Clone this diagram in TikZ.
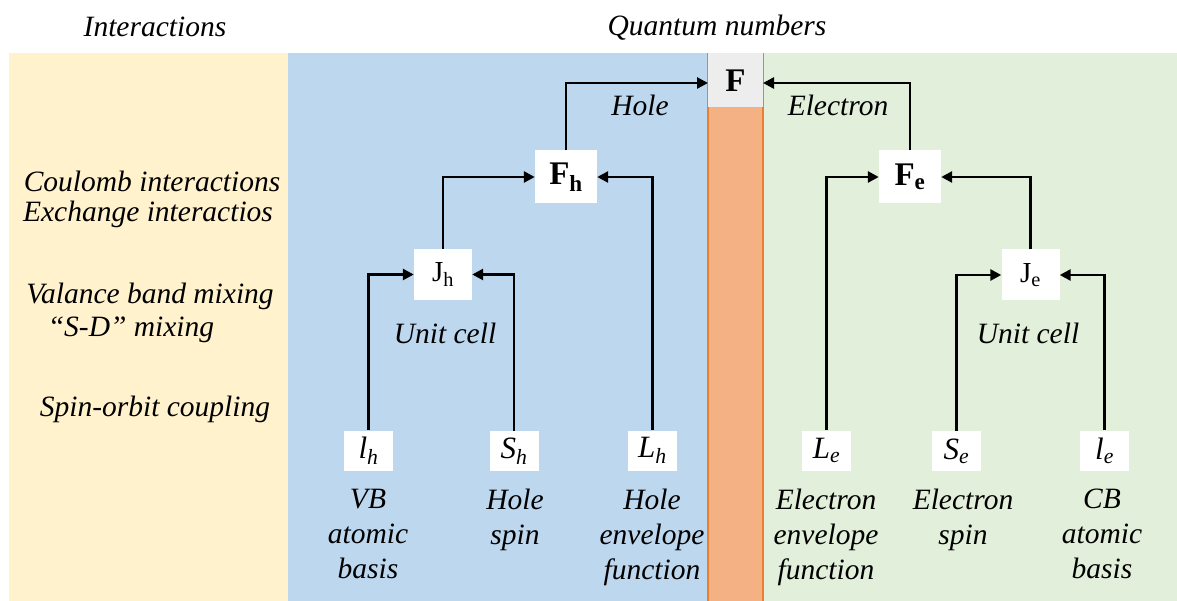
\documentclass[tikz,border=0pt]{standalone}
\usepackage{fontspec}
\setmainfont{Liberation Serif}
\usetikzlibrary{arrows.meta}
\definecolor{cyel}{HTML}{FFF2CC}
\definecolor{cblue}{HTML}{BDD7EE}
\definecolor{cgreen}{HTML}{E2EFDA}
\definecolor{corange}{HTML}{F4B183}
\definecolor{cordark}{HTML}{ED7D31}
\definecolor{cgrey}{HTML}{EDEDED}
\newcommand{\qn}[2]{\textit{#1}\textsubscript{\textit{#2}}}
\begin{document}
\begin{tikzpicture}[x=1pt,y=-1pt,
  lbl/.style={font=\fontsize{29.5}{33}\selectfont\itshape, inner sep=0pt},
  sub/.style={font=\fontsize{29.5}{35}\selectfont\itshape, inner sep=0pt, align=center, anchor=north},
  qbox/.style={fill=white, minimum width=49pt, minimum height=40pt, inner sep=0pt, font=\fontsize{31}{31}\selectfont},
  mbox/.style={fill=white, minimum width=58pt, minimum height=51pt, inner sep=0pt, font=\fontsize{29}{30}\selectfont},
  fbox/.style={fill=white, minimum width=62pt, minimum height=53pt, inner sep=0pt, font=\fontsize{33}{33}\selectfont\bfseries},
  conn/.style={line width=2.6pt, -{Triangle[length=11pt,width=11pt]}}
]
\useasboundingbox (0,0) rectangle (1177,601);
\fill[white] (0,0) rectangle (1177,601);
% panels
\fill[cyel] (9,53) rectangle (288,601);
\fill[cblue] (288,53) rectangle (708,601);
\fill[cgreen] (763,53) rectangle (1177,601);
\fill[corange] (708,53) rectangle (763,601);
\draw[cordark, line width=1.5pt] (708,53) -- (708,601);
\draw[cordark, line width=1.5pt] (763,53) -- (763,601);
\fill[cgrey] (708,53) rectangle (763,107);
\node[font=\fontsize{33}{33}\selectfont\bfseries, inner sep=0pt] (F) at (735.5,81) {F};
\coordinate (Fl) at (708,83);
\coordinate (Fr) at (763,83);

% headers
\node[lbl] (hint) at (155,27) {Interactions};
\node[lbl] (hqn) at (717,28) {Quantum numbers};

% left labels
\node[lbl] (t1) at (152,181) {Coulomb interactions};
\node[lbl] (t2) at (148,214) {Exchange interactios};
\node[lbl] (t3) at (150,296) {Valance band mixing};
\node[lbl] (t4) at (131,330) {“S-D” mixing};
\node[lbl] (t5) at (155,409) {Spin-orbit coupling};

% middle boxes
\node[fbox] (Fh) at (566,177) {F\textsubscript{h}};
\node[fbox] (Fe) at (910,177) {F\textsubscript{e}};
\node[mbox] (Jh) at (443,274.5) {J\textsubscript{h}};
\node[mbox] (Je) at (1030.5,275) {J\textsubscript{e}};

% bottom boxes
\node[qbox] (lh) at (368.5,450.5) {\qn{l}{h}};
\node[qbox] (Sh) at (514,451) {\qn{S}{h}};
\node[qbox] (Lh) at (652.5,450.5) {\qn{L}{h}};
\node[qbox] (Le) at (826.5,450.5) {\qn{L}{e}};
\node[qbox] (Se) at (956.5,451) {\qn{S}{e}};
\node[qbox] (le) at (1104.5,450.5) {\qn{l}{e}};

% sublabels
\node[sub] (dlh) at (368,489) {VB\\atomic\\basis};
\node[sub] (dSh) at (515,489) {Hole\\spin};
\node[sub] (dLh) at (652,489) {Hole\\envelope\\function};
\node[sub] (dLe) at (826,489) {Electron\\envelope\\function};
\node[sub] (dSe) at (963,489) {Electron\\spin};
\node[sub] (dle) at (1102,489) {CB\\atomic\\basis};

\node[lbl] (uh) at (445,333) {Unit cell};
\node[lbl] (ue) at (1028,333) {Unit cell};
\node[lbl] (hole) at (640,105) {Hole};
\node[lbl] (elec) at (838,105) {Electron};

% connectors
\draw[conn] (lh.north) -- (lh.north |- Jh.west) -- (Jh.west);
\draw[conn] (Sh.north) -- (Sh.north |- Jh.east) -- (Jh.east);
\draw[conn] (Jh.north) -- (Jh.north |- Fh.west) -- (Fh.west);
\draw[conn] (Lh.north) -- (Lh.north |- Fh.east) -- (Fh.east);
\draw[conn] (Fh.north) -- (Fh.north |- Fl) -- (Fl);

\draw[conn] (Se.north) -- (Se.north |- Je.west) -- (Je.west);
\draw[conn] (le.north) -- (le.north |- Je.east) -- (Je.east);
\draw[conn] (Je.north) -- (Je.north |- Fe.east) -- (Fe.east);
\draw[conn] (Le.north) -- (Le.north |- Fe.west) -- (Fe.west);
\draw[conn] (Fe.north) -- (Fe.north |- Fr) -- (Fr);
\end{tikzpicture}
\end{document}
